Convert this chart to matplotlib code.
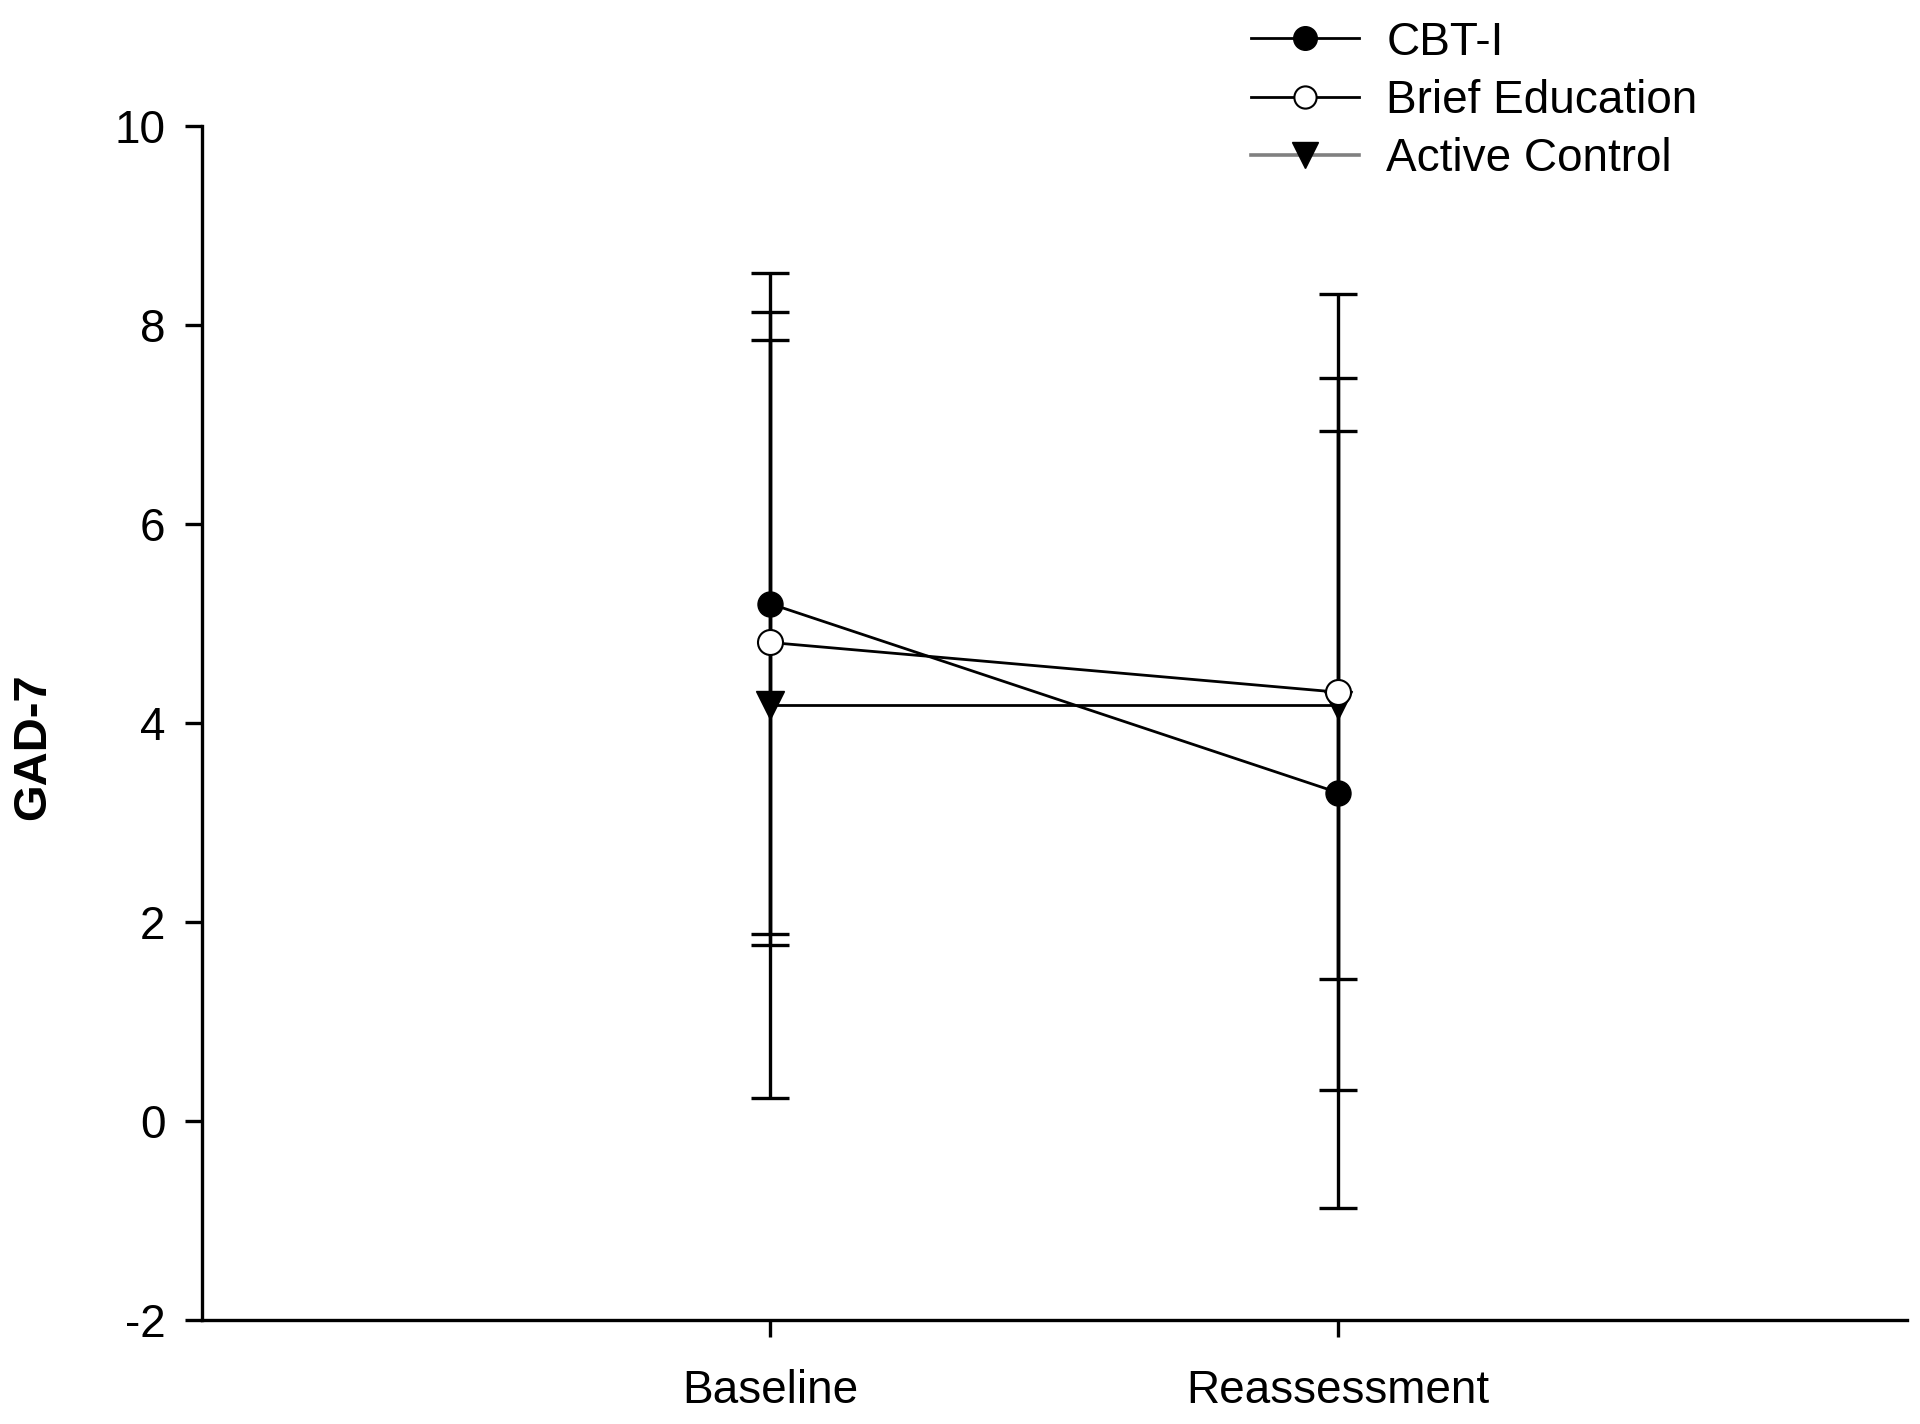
import matplotlib
matplotlib.use('Agg')
import matplotlib.pyplot as plt
from matplotlib.lines import Line2D
from matplotlib import font_manager

plt.rcParams['font.family'] = ['Liberation Sans', 'DejaVu Sans']
plt.rcParams['axes.unicode_minus'] = False

# datos
timepoints = ['Baseline', 'Reassessment']
series = ['CBT-I', 'Brief Education', 'Active Control']
cbt_mean = [5.2, 3.3]
cbt_err = [3.32, 4.17]
edu_mean = [4.81, 4.31]
edu_err = [3.04, 4.0]
ctrl_mean = [4.18, 4.18]
ctrl_err = [3.95, 2.75]

x = [1, 2]

fig = plt.figure(figsize=(19.2, 14.24), dpi=100)
ax = fig.add_axes([0.105, 0.073, 0.888, 0.8385])

# barras de error
for m, e in [(cbt_mean, cbt_err), (edu_mean, edu_err), (ctrl_mean, ctrl_err)]:
    ax.errorbar(x, m, yerr=e, fmt='none', ecolor='black', elinewidth=2.4,
                capsize=14, capthick=2.4, zorder=2)

# lineas con marcadores
ax.plot(x, ctrl_mean, color='black', lw=2.0, marker='v', ms=20,
        mfc='black', mec='black', zorder=3)
ax.plot(x, edu_mean, color='black', lw=2.0, marker='o', ms=18,
        mfc='white', mec='black', mew=1.5, zorder=4)
ax.plot(x, cbt_mean, color='black', lw=2.0, marker='o', ms=18,
        mfc='black', mec='black', zorder=5)

ax.set_xlim(0, 3)
ax.set_ylim(-2, 10)
ax.set_yticks(range(-2, 11, 2))
ax.set_xticks(x)
ax.set_xticklabels(timepoints)

for s in ['top', 'right']:
    ax.spines[s].set_visible(False)
for s in ['left', 'bottom']:
    ax.spines[s].set_linewidth(2.4)

ax.tick_params(axis='y', direction='out', length=12, width=2.4, labelsize=33, pad=14)
ax.tick_params(axis='x', direction='out', length=12, width=2.4, labelsize=33, pad=23)

narrow = 'Liberation Sans Narrow'
try:
    font_manager.findfont(narrow, fallback_to_default=False)
    ylab_family = [narrow, 'Liberation Sans']
except Exception:
    ylab_family = ['Liberation Sans']
ax.set_ylabel('GAD-7', fontsize=34, fontweight='bold', family=ylab_family)
ax.yaxis.set_label_coords(-0.086, 0.48)

handles = [
    Line2D([], [], color='black', lw=2.0, marker='o', ms=17, mfc='black', mec='black'),
    Line2D([], [], color='black', lw=2.0, marker='o', ms=16, mfc='white', mec='black', mew=1.5),
    Line2D([], [], color='gray', lw=2.6, marker='v', ms=19, mfc='black', mec='black'),
]
fig.legend(handles, series, loc='upper left', bbox_to_anchor=(0.6516, 0.9856),
           frameon=False, fontsize=33, borderpad=0, borderaxespad=0,
           handlelength=2.35, handletextpad=0.6, labelspacing=0.31)

fig.savefig('out.png', dpi=100)
